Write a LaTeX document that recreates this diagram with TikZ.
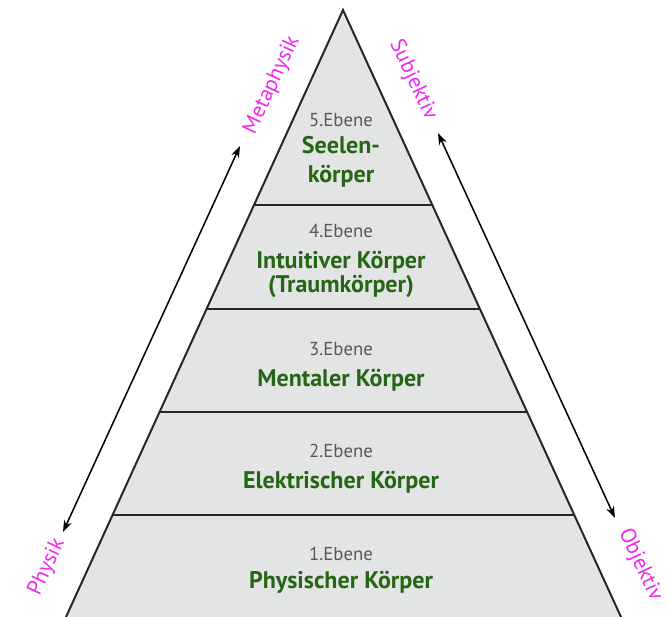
\documentclass[tikz,border=0pt]{standalone}
\usepackage{fontspec}
\setmainfont{PT Sans}
\usetikzlibrary{arrows.meta,calc}
\definecolor{pyrfill}{RGB}{227,228,228}
\definecolor{pyrgreen}{RGB}{38,100,22}
\definecolor{pyrgray}{RGB}{88,88,88}
\definecolor{pyrpink}{RGB}{240,40,240}
\tikzset{
  ebene/.style={anchor=base,text=pyrgray,font=\fontsize{16}{18}\selectfont,inner sep=0pt},
  koerper/.style={anchor=base,text=pyrgreen,font=\fontsize{20.5}{24}\selectfont\bfseries,inner sep=0pt},
  seite/.style={text=pyrpink,font=\fontsize{18.5}{20}\selectfont,inner sep=0pt},
  pfeil/.style={line width=1.3pt,{Stealth[length=10pt,width=7pt]}-{Stealth[length=10pt,width=7pt]}}
}
\begin{document}
\begin{tikzpicture}[x=0.03cm,y=-0.03cm]
\useasboundingbox (0,0) rectangle (670,617);
% pyramid corners
\coordinate (apex) at (343,10);
\coordinate (bl) at (66,617);
\coordinate (br) at (621,617);
\fill [pyrfill] (apex)--(br)--(bl)--cycle;
% level boundaries
\foreach \t [count=\i] in {0.321,0.4926,0.6623,0.832}{
  \draw [line width=1.7pt,black!85] ($(apex)!\t!(bl)$) coordinate (l\i) -- ($(apex)!\t!(br)$) coordinate (r\i);
}
\draw [line width=1.7pt,black!85] (bl)--(apex)--(br);

% 5
\node [ebene] (e5) at (341,126) {5.Ebene};
\node [koerper] (k5a) at (341,153) {Seelen-};
\node [koerper] (k5b) at (341,182) {körper};
% 4
\node [ebene] (e4) at (341,237) {4.Ebene};
\node [koerper] (k4a) at (341,268) {Intuitiver Körper};
\node [koerper] (k4b) at (341,292) {(Traumkörper)};
% 3
\node [ebene] (e3) at (341,355) {3.Ebene};
\node [koerper] (k3) at (341,386) {Mentaler Körper};
% 2
\node [ebene] (e2) at (341,457) {2.Ebene};
\node [koerper] (k2) at (341,488) {Elektrischer Körper};
% 1
\node [ebene] (e1) at (341,560) {1.Ebene};
\node [koerper] (k1) at (341,588) {Physischer Körper};

% side arrows
\coordinate (lo) at (240,146);
\coordinate (lu) at (63,532);
\coordinate (ro) at (438,133);
\coordinate (ru) at (615,518);
\draw [pfeil] (lu) -- (lo);
\draw [pfeil] (ro) -- (ru);

\node [seite,rotate=65] (meta) at (272,85) {Metaphysik};
\node [seite,rotate=65] (phys) at (47,567) {Physik};
\node [seite,rotate=-65] (subj) at (413,80) {Subjektiv};
\node [seite,rotate=-65] (obj) at (640,565) {Objektiv};
\end{tikzpicture}
\end{document}
